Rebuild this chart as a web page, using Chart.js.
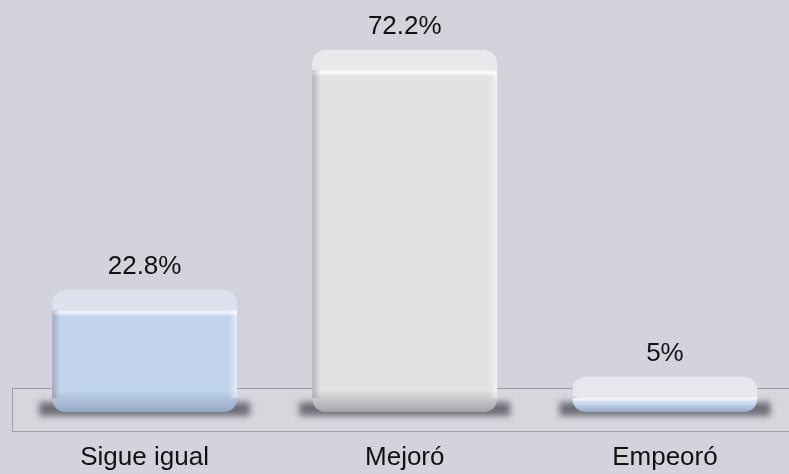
<!DOCTYPE html>
<html>
<head>
<meta charset="utf-8">
<script src="https://cdn.jsdelivr.net/npm/chart.js@4.4.1/dist/chart.umd.min.js"></script>
<style>
    html, body { margin: 0; padding: 0; background: #d3d3db; overflow: hidden; }
    #wrap { width: 795px; height: 474px; }
</style>
</head>
<body>
<div id="wrap"><canvas id="chart"></canvas></div>
<script>
const categories = ["Sigue igual", "Mejoró", "Empeoró"];
const percentages = [22.8, 72.2, 5];
const valueLabels = ["22.8%", "72.2%", "5%"];

// colours per bar: top face, highlight line, body, dark bottom
const barTones = [
    ["#dde2ee", "#f3f8ff", "#c2d4ec", "#93a8c6"],
    ["#e9e9ec", "#ffffff", "#e2e2e2", "#a5a5a8"],
    ["#e6e8ee", "#f2f7ff", "#c9d9ef", "#93a6c2"]
];

const floorMin = -2.26; // the bars stand on the floor, a bit below zero
const FONT = "Arial, 'Liberation Sans', sans-serif";

function barGradient(context) {
    const chart = context.chart;
    const area = chart.chartArea;
    if (!area) return barTones[context.dataIndex][2];
    const y = chart.scales.y;
    const top = y.getPixelForValue(context.parsed ? context.parsed.y : percentages[context.dataIndex]);
    const bottom = y.getPixelForValue(floorMin);
    const h = Math.max(bottom - top, 1);
    const t = barTones[context.dataIndex];
    const g = chart.ctx.createLinearGradient(0, top, 0, bottom);
    const f = Math.min(20 / h, 0.6);
    g.addColorStop(0, t[0]);
    g.addColorStop(f, t[0]);
    g.addColorStop(Math.min(f + 2 / h, 0.65), t[1]);
    g.addColorStop(Math.min(f + 6 / h, 0.75), t[2]);
    g.addColorStop(Math.max(1 - 22 / h, Math.min(f + 7 / h, 0.78)), t[2]);
    g.addColorStop(1, t[3]);
    return g;
}

const floorPlugin = {
    id: "floor",
    beforeDatasetsDraw(chart) {
        const ctx = chart.ctx;
        ctx.save();
        ctx.fillStyle = "#d6d6dd";
        ctx.fillRect(12.5, 388.5, 790, 43);
        ctx.strokeStyle = "#9d9da3";
        ctx.lineWidth = 1;
        ctx.strokeRect(12.5, 388.5, 790, 43);
        // soft shadows under each bar
        const meta = chart.getDatasetMeta(0);
        ctx.filter = "blur(3px)";
        ctx.fillStyle = "rgba(100,100,108,0.9)";
        meta.data.forEach(bar => {
            const w = bar.width;
            ctx.fillRect(bar.x - w / 2 - 13, bar.base - 10, w + 26, 14);
        });
        ctx.restore();
    },
    afterDatasetsDraw(chart) {
        const ctx = chart.ctx;
        const meta = chart.getDatasetMeta(0);
        ctx.save();
        // darker side edges of the bevel
        meta.data.forEach(bar => {
            const left = bar.x - bar.width / 2;
            const right = bar.x + bar.width / 2;
            const top = bar.y + 20;
            const bottom = bar.base - 14;
            if (bottom <= top) return;
            let g = ctx.createLinearGradient(left, 0, left + 8, 0);
            g.addColorStop(0, "rgba(90,95,110,0.35)");
            g.addColorStop(1, "rgba(90,95,110,0)");
            ctx.fillStyle = g;
            ctx.fillRect(left, top, 8, bottom - top);
            g = ctx.createLinearGradient(right, 0, right - 8, 0);
            g.addColorStop(0, "rgba(255,255,255,0.6)");
            g.addColorStop(1, "rgba(255,255,255,0)");
            ctx.fillStyle = g;
            ctx.fillRect(right - 8, top, 8, bottom - top);
        });
        ctx.fillStyle = "#111111";
        ctx.font = "26px " + FONT;
        ctx.textAlign = "center";
        ctx.textBaseline = "middle";
        // value labels above the bars
        meta.data.forEach((bar, i) => {
            ctx.fillText(valueLabels[i], bar.x, bar.y - 23);
        });
        // category names under the floor
        const x = chart.scales.x;
        categories.forEach((name, i) => {
            ctx.fillText(name, x.getPixelForValue(i), chart.chartArea.bottom + 46);
        });
        ctx.restore();
    }
};

new Chart(document.getElementById("chart"), {
    type: "bar",
    data: {
        labels: categories,
        datasets: [{
            data: percentages,
            base: floorMin,
            backgroundColor: barGradient,
            borderWidth: 0,
            borderRadius: 13,
            borderSkipped: false,
            categoryPercentage: 1,
            barPercentage: 0.71
        }]
    },
    options: {
        responsive: true,
        maintainAspectRatio: false,
        animation: false,
        layout: { padding: { left: 14.5, right: 0, top: 40, bottom: 62 } },
        plugins: {
            legend: { display: false },
            tooltip: { enabled: false }
        },
        scales: {
            x: { display: false },
            y: {
                display: false,
                min: floorMin,
                max: 74.28
            }
        }
    },
    plugins: [floorPlugin]
});
</script>
</body>
</html>
